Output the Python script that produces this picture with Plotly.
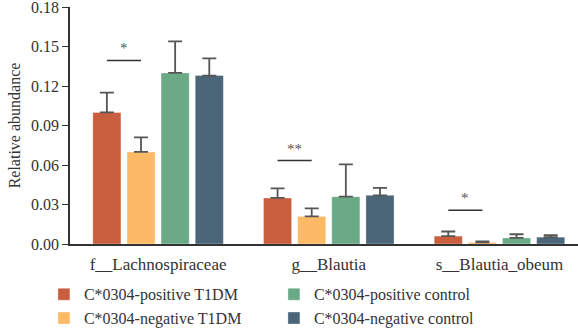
import plotly.graph_objects as go

categories = ["f__Lachnospiraceae", "g__Blautia", "s__Blautia_obeum"]
series_names = ["C*0304-positive T1DM", "C*0304-negative T1DM",
                "C*0304-positive control", "C*0304-negative control"]
pos_t1dm = [0.100, 0.035, 0.0060]
neg_t1dm = [0.070, 0.021, 0.0012]
pos_ctrl = [0.130, 0.036, 0.0046]
neg_ctrl = [0.128, 0.037, 0.0052]
pos_t1dm_err = [0.015, 0.0073, 0.0035]
neg_t1dm_err = [0.011, 0.0060, 0.0008]
pos_ctrl_err = [0.024, 0.0245, 0.0028]
neg_ctrl_err = [0.013, 0.0056, 0.0015]
sig_labels = ["*", "**", "*"]
sig_heights = [0.1395, 0.0634, 0.0257]
colors = ["#C85E3D", "#FDBA66", "#6BAA87", "#4B6579"]
legend_ranks = [1, 3, 2, 4]

values = [pos_t1dm, neg_t1dm, pos_ctrl, neg_ctrl]
errors = [pos_t1dm_err, neg_t1dm_err, pos_ctrl_err, neg_ctrl_err]

W, H = 578, 329
bargap = 0.2
n = 4
slot = (1 - bargap) / n

fig = go.Figure()
for name, vals, errs, col, rank in zip(series_names, values, errors, colors, legend_ranks):
    fig.add_trace(go.Bar(
        x=categories, y=vals, name=name, legendrank=rank,
        marker=dict(color=col, line=dict(color="rgba(255,255,255,0.35)", width=1)),
        error_y=dict(type="data", array=errs, arrayminus=[0] * len(errs),
                     symmetric=False, color="#555555", thickness=1.8, width=7),
    ))

font_family = "Liberation Serif, DejaVu Serif, serif"
for i, (lab, h) in enumerate(zip(sig_labels, sig_heights)):
    x0 = i - 1.5 * slot
    x1 = i - 0.5 * slot
    fig.add_shape(type="line", xref="x", yref="y", x0=x0, x1=x1, y0=h, y1=h,
                  line=dict(color="#333333", width=1.5))
    fig.add_annotation(x=(x0 + x1) / 2, y=h, xref="x", yref="y", text=lab,
                       showarrow=False, yanchor="bottom", yshift=2,
                       font=dict(family=font_family, size=15, color="#555555"))

fig.update_layout(
    width=W, height=H,
    margin=dict(l=70, r=0, t=7, b=85),
    paper_bgcolor="white", plot_bgcolor="white",
    barmode="group", bargap=bargap, bargroupgap=0.176,
    font=dict(family=font_family, size=16, color="#333333"),
    showlegend=True,
    legend=dict(orientation="h", xref="container", x=0.076, xanchor="left",
                yref="container", y=0.157, yanchor="top",
                entrywidth=185, entrywidthmode="pixels",
                font=dict(family=font_family, size=16, color="#333333"),
                itemwidth=30, tracegroupgap=0),
    xaxis=dict(range=[-0.516, 2.46], showline=True, linecolor="#333333", linewidth=1.5,
               ticks="outside", ticklen=4, tickcolor="rgba(0,0,0,0)",
               showgrid=False, tickfont=dict(size=17)),
    yaxis=dict(range=[0, 0.1801], tickvals=[0, 0.03, 0.06, 0.09, 0.12, 0.15, 0.18],
               tickformat=".2f", showline=True, linecolor="#333333", linewidth=1.5,
               ticks="outside", ticklen=6, tickcolor="#333333", tickwidth=1.2,
               ticklabeloverflow="allow",
               showgrid=False, zeroline=False,
               title=dict(text="Relative abundance", standoff=6, font=dict(size=16)),
               tickfont=dict(size=16)),
)

fig.write_html("out.html")
